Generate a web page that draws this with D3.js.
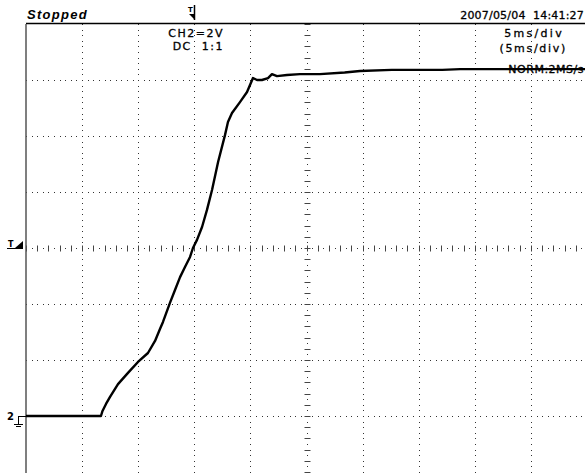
<!DOCTYPE html>
<html>
<head>
<meta charset="utf-8">
<script src="https://cdn.jsdelivr.net/npm/d3@7"></script>
<style>
  body { margin: 0; background: #fff; }
  svg { display: block; }
  text { font-family: "DejaVu Sans", "Liberation Sans", sans-serif; fill: #000; }
</style>
</head>
<body>
<script>
// scope capture, CH2 2V/div, 5ms/div, trigger at t = 0
var timeMs = [-15, -8.32, -8.18, -7.87, -7.51, -6.8, -5.91, -5.02, -4.13, -3.5, -3.06, -2.79,
  -2.17, -1.72, -1.27, -0.83, -0.38, -0.12, 0.24, 0.69, 1.13, 1.58, 2.12, 2.74, 3.0, 3.36,
  4.07, 4.7, 5.23, 5.59, 6.03, 6.57, 6.92, 7.37, 8.26, 9.42, 11.2, 13.4, 14.77, 17.6, 22.1,
  23.7, 29, 35];
var volts = [0, 0, 0.18, 0.43, 0.68, 1.14, 1.54, 1.93, 2.25, 2.68, 3.11, 3.36,
  4.04, 4.5, 4.96, 5.32, 5.68, 6.0, 6.29, 6.75, 7.36, 8.07, 9.07, 10.04, 10.5, 10.82,
  11.21, 11.57, 12.07, 12.0, 12.0, 12.07, 12.21, 12.14, 12.18, 12.21, 12.21, 12.27, 12.32, 12.36, 12.36,
  12.39, 12.39, 12.39];

var timeDivs = [-10, -5, 0, 5, 10, 15, 20, 25, 30];
var voltDivs = [0, 2, 4, 6, 8, 10, 12];
var centerTime = 10, centerVolt = 6;

var headerLeft = "Stopped";
var headerRight = "2007/05/04  14:41:27";
var chLabels = ["CH2=2V", "DC  1:1"];
var timeLabels = ["5ms/div", "(5ms/div)", "NORM:2MS/s"];

var w = 585, h = 473;
var x = d3.scaleLinear().domain([-15, 35]).range([26, 587]);
var y = d3.scaleLinear().domain([-2, 14]).range([472, 24]);

var svg = d3.select("body").append("svg")
  .attr("width", w)
  .attr("height", h);

// dotted grid, 10 dots per division
var grid = svg.append("g").attr("fill", "#333");
voltDivs.forEach(function(v) {
  d3.range(-15, 35.01, 0.5).forEach(function(t) {
    grid.append("rect").attr("x", Math.round(x(t))).attr("y", Math.round(y(v))).attr("width", 1).attr("height", 1);
  });
});
timeDivs.forEach(function(t) {
  d3.range(-2, 14.01, 0.2).forEach(function(v) {
    grid.append("rect").attr("x", Math.round(x(t))).attr("y", Math.round(y(v))).attr("width", 1).attr("height", 1);
  });
});

// center axis ticks
var ticks = svg.append("g").attr("stroke", "#444").attr("stroke-width", 1);
d3.range(-15, 35.01, 1).forEach(function(t) {
  var px = Math.round(x(t)) + 0.5, py = Math.round(y(centerVolt));
  ticks.append("line").attr("x1", px).attr("x2", px).attr("y1", py - 2.5).attr("y2", py + 3.5);
});
d3.range(-2, 14.01, 0.4).forEach(function(v) {
  var px = Math.round(x(centerTime)), py = Math.round(y(v)) + 0.5;
  ticks.append("line").attr("x1", px - 2.5).attr("x2", px + 3.5).attr("y1", py).attr("y2", py);
});

// frame
svg.append("line")
  .attr("x1", x(-15)).attr("x2", w).attr("y1", y(14) - 0.5).attr("y2", y(14) - 0.5)
  .attr("stroke", "#000").attr("stroke-width", 1.5);
svg.append("line")
  .attr("x1", x(-15)).attr("x2", x(-15)).attr("y1", y(14)).attr("y2", h)
  .attr("stroke", "#555").attr("stroke-width", 1.5);

// header texts
svg.append("text")
  .attr("x", 27).attr("y", 19)
  .style("font-family", "'Liberation Sans', Arial, sans-serif")
  .style("font-size", "13px").style("font-weight", "bold").style("font-style", "italic")
  .style("letter-spacing", "1.3px")
  .text(headerLeft);
svg.append("text")
  .attr("x", 584).attr("y", 19)
  .attr("text-anchor", "end")
  .attr("stroke", "#000").attr("stroke-width", 0.3)
  .style("font-size", "11px").style("letter-spacing", "0.2px")
  .style("white-space", "pre")
  .text(headerRight);

svg.selectAll(".ch")
  .data(chLabels)
  .enter().append("text")
  .attr("class", "ch")
  .attr("x", 224)
  .attr("y", function(d, i) { return 37 + i * 12.5; })
  .attr("text-anchor", "end")
  .attr("stroke", "#000").attr("stroke-width", 0.3)
  .style("font-size", "11px").style("letter-spacing", "1.5px")
  .style("white-space", "pre")
  .text(function(d) { return d; });

svg.selectAll(".tb")
  .data(timeLabels)
  .enter().append("text")
  .attr("class", "tb")
  .attr("x", function(d, i) { return [564, 567, 584][i]; })
  .attr("y", function(d, i) { return [37, 52, 73][i]; })
  .attr("text-anchor", "end")
  .attr("stroke", "#000").attr("stroke-width", 0.3)
  .style("font-size", "11px")
  .style("letter-spacing", function(d, i) { return ["2.3px", "1.7px", "0.5px"][i]; })
  .text(function(d) { return d; });

// trigger position marker (top)
var tx = Math.round(x(0));
svg.append("text").attr("x", tx - 6).attr("y", 12).style("font-size", "7px").style("font-weight", "bold").text("T");
svg.append("line").attr("x1", tx + 0.5).attr("x2", tx + 0.5).attr("y1", 5).attr("y2", 20)
  .attr("stroke", "#000").attr("stroke-width", 1.5);
svg.append("path").attr("d", "M" + (tx - 5) + ",14L" + (tx + 1) + ",14L" + (tx + 1) + ",20Z").attr("fill", "#000");

// trigger level marker (left)
var ty = Math.round(y(centerVolt));
svg.append("text").attr("x", 8).attr("y", ty - 1).style("font-size", "8px").style("font-weight", "bold").text("T");
svg.append("line").attr("x1", 7).attr("x2", 23).attr("y1", ty + 0.5).attr("y2", ty + 0.5).attr("stroke", "#000");
svg.append("path").attr("d", "M15," + ty + "L23," + ty + "L23," + (ty - 7) + "Z").attr("fill", "#000");

// ground marker for CH2
var gy = Math.round(y(0));
svg.append("text").attr("x", 7).attr("y", gy + 4).style("font-size", "10px").style("font-weight", "bold").text("2");
var gnd = svg.append("g").attr("stroke", "#000").attr("stroke-width", 1);
gnd.append("line").attr("x1", 18.5).attr("x2", 18.5).attr("y1", gy).attr("y2", gy + 8);
gnd.append("line").attr("x1", 18).attr("x2", 26).attr("y1", gy + 0.5).attr("y2", gy + 0.5);
gnd.append("line").attr("x1", 14).attr("x2", 23).attr("y1", gy + 8.5).attr("y2", gy + 8.5);
gnd.append("line").attr("x1", 16).attr("x2", 21).attr("y1", gy + 10.5).attr("y2", gy + 10.5);

// waveform
var pts = timeMs.map(function(t, i) { return [t, volts[i]]; });
var line = d3.line()
  .x(function(d) { return x(d[0]); })
  .y(function(d) { return y(d[1]); });

svg.append("path")
  .datum(pts)
  .attr("fill", "none")
  .attr("stroke", "#000")
  .attr("stroke-width", 2.4)
  .attr("stroke-linejoin", "round")
  .attr("d", line);
</script>
</body>
</html>
